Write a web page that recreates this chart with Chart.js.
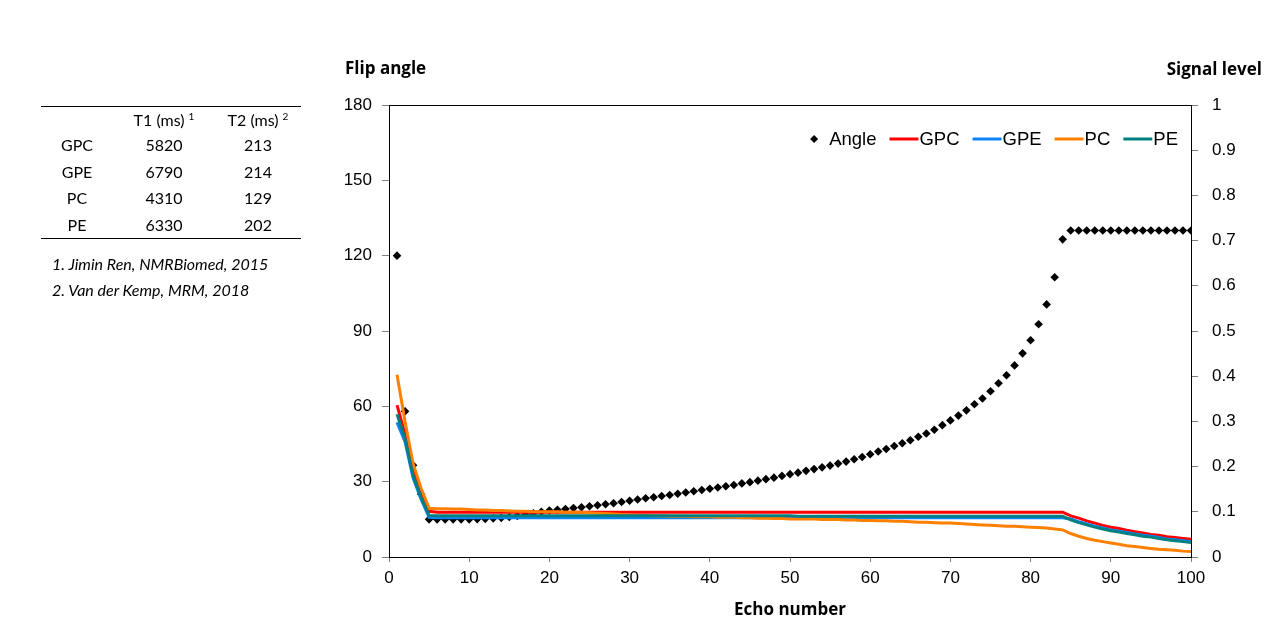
<!DOCTYPE html>
<html>
<head>
<meta charset="utf-8">
<title>Flip angle and signal level per echo</title>
<script src="https://cdn.jsdelivr.net/npm/chart.js@4.4.1/dist/chart.umd.min.js"></script>
<style>
  body { margin: 0; background: #fff; }
  #wrap { position: relative; width: 1280px; height: 643px; overflow: hidden; }
  #chart { position: absolute; left: 0; top: 0; }
  #t1t2 {
    position: absolute; left: 41px; top: 106px; width: 260px;
    border-collapse: collapse; font-family: Lato, sans-serif; font-size: 16px; color: #000;
    border-top: 1px solid #000; border-bottom: 1px solid #000;
  }
  #t1t2 td, #t1t2 th { padding: 0; text-align: center; font-weight: normal; }
  #t1t2 th { height: 24px; font-size: 16px; }
  #t1t2 td { height: 26.75px; }
  #t1t2 sup { font-size: 10px; vertical-align: 6px; margin-left: 4px; }
  .note { position: absolute; left: 52px; font-family: Lato, sans-serif; font-style: italic; font-size: 16px; color: #000; }
</style>
</head>
<body>
<div id="wrap">
  <canvas id="chart" width="1280" height="643"></canvas>
  <table id="t1t2">
    <colgroup><col style="width:72px"><col style="width:102px"><col style="width:86px"></colgroup>
    <thead><tr><th></th><th>T1 (ms)<sup>1</sup></th><th>T2 (ms)<sup>2</sup></th></tr></thead>
    <tbody id="t1t2body"></tbody>
  </table>
  <div class="note" style="top:254px">1. Jimin Ren, NMRBiomed, 2015</div>
  <div class="note" style="top:280px">2. Van der Kemp, MRM, 2018</div>
</div>
<script>
// relaxation table (left panel)
const metabolites = ['GPC', 'GPE', 'PC', 'PE'];
const t1Values = [5820, 6790, 4310, 6330];
const t2Values = [213, 214, 129, 202];

// axis ticks
const echoTicks = [0, 10, 20, 30, 40, 50, 60, 70, 80, 90, 100];
const angleTicks = [0, 30, 60, 90, 120, 150, 180];
const signalTicks = [0, 0.1, 0.2, 0.3, 0.4, 0.5, 0.6, 0.7, 0.8, 0.9, 1];

// echo numbers 1..100
const echoes = Array.from({ length: 100 }, (_, i) => i + 1);

// flip angle per echo (left axis)
const angle = [
  120, 58, 36.5, 25, 15, 15, 15, 15, 15, 15,
  15.1, 15.2, 15.4, 15.6, 15.9, 16.3, 16.8, 17.4, 18.0, 18.5,
  18.8, 19.1, 19.5, 19.8, 20.2, 20.6, 21.0, 21.4, 21.9, 22.4,
  22.9, 23.4, 23.8, 24.3, 24.7, 25.2, 25.7, 26.2, 26.7, 27.2,
  27.7, 28.2, 28.7, 29.3, 29.8, 30.4, 31.0, 31.6, 32.3, 33.0,
  33.6, 34.3, 35.0, 35.7, 36.4, 37.2, 38.0, 38.9, 39.8, 40.9,
  42.0, 43.0, 44.2, 45.3, 46.5, 47.9, 49.2, 50.7, 52.5, 54.4,
  56.3, 58.4, 60.8, 63.1, 66.0, 69.2, 72.4, 76.3, 81.1, 86.3,
  92.7, 100.6, 111.4, 126.5, 130, 130, 130, 130, 130, 130,
  130, 130, 130, 130, 130, 130, 130, 130, 130, 130
];

// signal level per echo (right axis)
const gpc = [
  0.336, 0.272, 0.190, 0.140, 0.101, 0.099, 0.099, 0.099, 0.099, 0.099,
  0.099, 0.099, 0.099, 0.099, 0.099, 0.099, 0.099, 0.099, 0.099, 0.099,
  0.099, 0.099, 0.099, 0.099, 0.099, 0.099, 0.099, 0.099, 0.099, 0.099,
  0.099, 0.099, 0.099, 0.099, 0.099, 0.099, 0.099, 0.099, 0.099, 0.099,
  0.099, 0.099, 0.099, 0.099, 0.099, 0.099, 0.099, 0.099, 0.099, 0.099,
  0.099, 0.099, 0.099, 0.099, 0.099, 0.099, 0.099, 0.099, 0.099, 0.099,
  0.099, 0.099, 0.099, 0.099, 0.099, 0.099, 0.099, 0.099, 0.099, 0.099,
  0.099, 0.099, 0.099, 0.099, 0.099, 0.099, 0.099, 0.099, 0.099, 0.099,
  0.099, 0.099, 0.099, 0.099, 0.091, 0.086, 0.080, 0.075, 0.070, 0.066,
  0.063, 0.059, 0.056, 0.053, 0.050, 0.048, 0.045, 0.043, 0.041, 0.039
];
const gpe = [
  0.298, 0.255, 0.175, 0.128, 0.088, 0.087, 0.087, 0.087, 0.087, 0.087,
  0.087, 0.087, 0.087, 0.087, 0.087, 0.087, 0.087, 0.087, 0.087, 0.087,
  0.087, 0.087, 0.087, 0.087, 0.087, 0.087, 0.087, 0.087, 0.087, 0.087,
  0.087, 0.087, 0.087, 0.087, 0.087, 0.087, 0.087, 0.087, 0.087, 0.087,
  0.087, 0.087, 0.087, 0.087, 0.087, 0.087, 0.087, 0.087, 0.087, 0.087,
  0.087, 0.087, 0.087, 0.087, 0.087, 0.087, 0.087, 0.087, 0.087, 0.087,
  0.087, 0.087, 0.087, 0.087, 0.087, 0.087, 0.087, 0.087, 0.087, 0.087,
  0.087, 0.087, 0.087, 0.087, 0.087, 0.087, 0.087, 0.087, 0.087, 0.087,
  0.087, 0.087, 0.087, 0.087, 0.084, 0.078, 0.073, 0.068, 0.064, 0.060,
  0.057, 0.054, 0.051, 0.048, 0.046, 0.043, 0.040, 0.038, 0.036, 0.034
];
const pc = [
  0.403, 0.300, 0.207, 0.152, 0.108, 0.107, 0.107, 0.106, 0.106, 0.105,
  0.104, 0.104, 0.103, 0.103, 0.102, 0.101, 0.101, 0.100, 0.100, 0.100,
  0.100, 0.099, 0.099, 0.099, 0.098, 0.097, 0.096, 0.095, 0.094, 0.093,
  0.092, 0.092, 0.091, 0.091, 0.090, 0.090, 0.090, 0.089, 0.089, 0.089,
  0.088, 0.088, 0.088, 0.087, 0.087, 0.086, 0.086, 0.085, 0.085, 0.084,
  0.084, 0.084, 0.084, 0.083, 0.083, 0.083, 0.082, 0.082, 0.081, 0.081,
  0.080, 0.080, 0.079, 0.079, 0.078, 0.077, 0.077, 0.076, 0.075, 0.075,
  0.074, 0.073, 0.072, 0.071, 0.070, 0.069, 0.068, 0.068, 0.067, 0.066,
  0.065, 0.064, 0.062, 0.060, 0.052, 0.046, 0.041, 0.037, 0.034, 0.031,
  0.028, 0.025, 0.023, 0.021, 0.019, 0.017, 0.016, 0.015, 0.013, 0.012
];
const pe = [
  0.316, 0.262, 0.180, 0.132, 0.092, 0.091, 0.091, 0.091, 0.091, 0.091,
  0.091, 0.091, 0.091, 0.091, 0.091, 0.091, 0.091, 0.091, 0.091, 0.091,
  0.091, 0.091, 0.091, 0.091, 0.091, 0.091, 0.091, 0.091, 0.091, 0.091,
  0.091, 0.091, 0.091, 0.091, 0.091, 0.091, 0.091, 0.091, 0.091, 0.091,
  0.091, 0.091, 0.091, 0.091, 0.091, 0.091, 0.091, 0.091, 0.091, 0.091,
  0.090, 0.090, 0.090, 0.090, 0.090, 0.090, 0.090, 0.090, 0.090, 0.090,
  0.090, 0.090, 0.090, 0.090, 0.090, 0.090, 0.090, 0.090, 0.090, 0.090,
  0.090, 0.090, 0.090, 0.090, 0.090, 0.090, 0.090, 0.090, 0.090, 0.090,
  0.090, 0.090, 0.090, 0.090, 0.082, 0.076, 0.071, 0.066, 0.062, 0.058,
  0.055, 0.052, 0.049, 0.046, 0.044, 0.041, 0.038, 0.036, 0.034, 0.032
];

// fill the table
const tbody = document.getElementById('t1t2body');
metabolites.forEach((m, i) => {
  const tr = document.createElement('tr');
  [m, t1Values[i], t2Values[i]].forEach(v => {
    const td = document.createElement('td');
    td.textContent = v;
    tr.appendChild(td);
  });
  tbody.appendChild(tr);
});

const tickFont = { family: 'Liberation Sans', size: 17 };
const headFont = 'bold 17px "Open Sans"';

// top frame line, the two axis headings and the legend inside the plot
const framePlugin = {
  id: 'framePlugin',
  afterDraw(chart) {
    const ctx = chart.ctx;
    const a = chart.chartArea;
    ctx.save();
    ctx.strokeStyle = '#000';
    ctx.lineWidth = 1;
    ctx.beginPath();
    ctx.moveTo(a.left, Math.round(a.top) + 0.5);
    ctx.lineTo(a.right, Math.round(a.top) + 0.5);
    ctx.stroke();

    ctx.fillStyle = '#000';
    ctx.font = headFont;
    ctx.textBaseline = 'middle';
    ctx.textAlign = 'left';
    ctx.fillText('Flip angle', 345, 69);
    ctx.textAlign = 'right';
    ctx.fillText('Signal level', 1262, 70);

    // legend
    ctx.font = '18.5px "Liberation Sans"';
    ctx.textAlign = 'left';
    const ds = chart.data.datasets;
    const items = ds.map(d => {
      const isPoint = d.showLine === false;
      const mark = isPoint ? 8 : 29;
      const gap = isPoint ? 11 : 1;
      return { d, isPoint, mark, gap, w: mark + gap + ctx.measureText(d.label).width };
    });
    const total = items.reduce((s, it) => s + it.w, 0) + 13 * (items.length - 1);
    let x = a.right - 13 - total;
    const y = 139;
    items.forEach(it => {
      if (it.isPoint) {
        ctx.fillStyle = it.d.backgroundColor;
        ctx.beginPath();
        ctx.moveTo(x + 4, y - 4);
        ctx.lineTo(x + 8, y);
        ctx.lineTo(x + 4, y + 4);
        ctx.lineTo(x, y);
        ctx.closePath();
        ctx.fill();
      } else {
        ctx.strokeStyle = it.d.borderColor;
        ctx.lineWidth = 3;
        ctx.beginPath();
        ctx.moveTo(x, y);
        ctx.lineTo(x + it.mark, y);
        ctx.stroke();
      }
      ctx.fillStyle = '#000';
      ctx.fillText(it.d.label, x + it.mark + it.gap, y + 1);
      x += it.w + 13;
    });
    ctx.restore();
  }
};

function lineSet(label, data, color, order) {
  return {
    label: label,
    data: data,
    yAxisID: 'y2',
    borderColor: color,
    backgroundColor: color,
    borderWidth: 3,
    pointRadius: 0,
    tension: 0,
    order: order
  };
}

new Chart(document.getElementById('chart'), {
  type: 'line',
  data: {
    labels: echoes,
    datasets: [
      {
        label: 'Angle',
        data: angle,
        yAxisID: 'y',
        showLine: false,
        pointStyle: 'rectRot',
        pointRadius: 4.3,
        backgroundColor: '#000',
        borderColor: '#000',
        borderWidth: 0,
        order: 5
      },
      lineSet('GPC', gpc, '#ff0000', 4),
      lineSet('GPE', gpe, '#0a84f5', 3),
      lineSet('PC', pc, '#ff8000', 2),
      lineSet('PE', pe, '#008080', 1)
    ]
  },
  options: {
    responsive: false,
    devicePixelRatio: 1,
    animation: false,
    layout: { padding: { left: 300, right: 0, top: 105, bottom: 0 } },
    plugins: {
      legend: { display: false },
      tooltip: { enabled: false }
    },
    scales: {
      x: {
        type: 'linear',
        min: 0,
        max: 100,
        afterBuildTicks: s => { s.ticks = echoTicks.map(v => ({ value: v })); },
        afterFit: s => { s.height = 86; },
        ticks: { color: '#000', font: tickFont, padding: 6, maxRotation: 0, autoSkip: false },
        grid: { drawOnChartArea: false, tickLength: 5, color: '#7f7f7f' },
        border: { color: '#000', width: 1 },
        title: {
          display: true,
          text: 'Echo number',
          color: '#000',
          font: { family: 'Open Sans', weight: 'bold', size: 17 },
          padding: { top: 4, bottom: 23 }
        }
      },
      y: {
        position: 'left',
        min: 0,
        max: 180,
        afterBuildTicks: s => { s.ticks = angleTicks.map(v => ({ value: v })); },
        afterFit: s => { s.width = 89; },
        ticks: { color: '#000', font: tickFont, padding: 10, autoSkip: false },
        grid: { drawOnChartArea: false, tickLength: 7, color: '#7f7f7f' },
        border: { color: '#000', width: 1 }
      },
      y2: {
        position: 'right',
        min: 0,
        max: 1,
        afterBuildTicks: s => { s.ticks = signalTicks.map(v => ({ value: v })); },
        afterFit: s => { s.width = 89; },
        ticks: { color: '#000', font: tickFont, padding: 14, autoSkip: false, callback: v => String(v) },
        grid: { drawOnChartArea: false, tickLength: 7, color: '#7f7f7f' },
        border: { color: '#000', width: 1 }
      }
    }
  },
  plugins: [framePlugin]
});
</script>
</body>
</html>
